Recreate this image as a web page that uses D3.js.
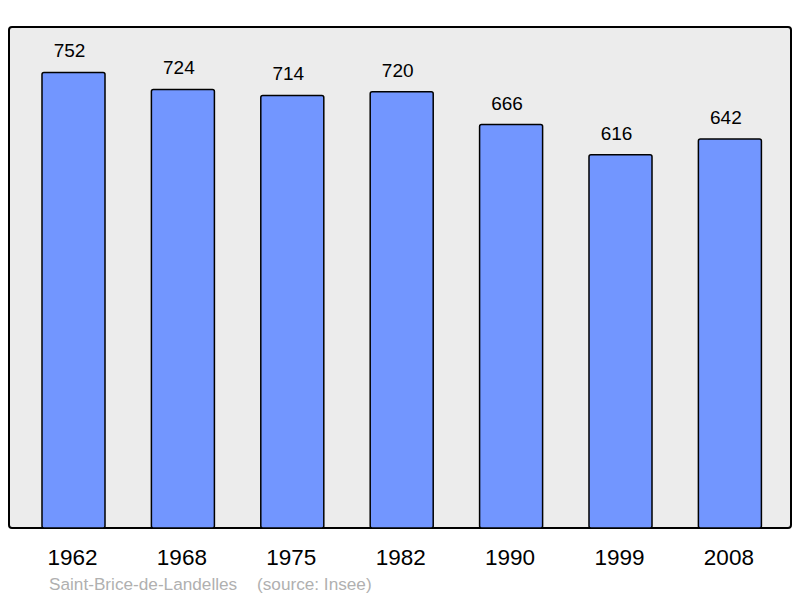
<!DOCTYPE html>
<head>
	<meta charset="UTF-8">
	<script src="https://d3js.org/d3.v7.min.js"></script>
	<title>Population chart</title>
<style>
	body{
		margin: 0;
		background-color: white;
	}
	svg{
		display: block;
	}
	text{
		font-family: 'Liberation Sans', Arial, sans-serif;
	}
</style>
</head>

<body>
	<svg width=800 height=598></svg>
</body>

<script>
	// Chart data
	var years = ["1962", "1968", "1975", "1982", "1990", "1999", "2008"];
	var population = [752, 724, 714, 720, 666, 616, 642];
	var townName = "Saint-Brice-de-Landelles";
	var sourceText = "(source: Insee)";

	var svg = d3.select("svg");

	// Panel box
	var panel = {left: 9, top: 27, right: 791, bottom: 528};

	svg.append("rect")
		.attr("x", panel.left)
		.attr("y", panel.top)
		.attr("width", panel.right - panel.left)
		.attr("height", panel.bottom - panel.top)
		.attr("rx", 3)
		.style("fill", "rgb(236,236,236)")
		.style("stroke", "black")
		.style("stroke-width", 2);

	// Scales
	var x = d3.scaleBand()
				.domain(years)
				.range([18.8, 784.6])
				.paddingInner(0.424)
				.paddingOuter(0.212);

	var y = d3.scaleLinear()
				.domain([0, 827])
				.range([panel.bottom, panel.top]);

	var rows = years.map(function(yr, i){ return {year: yr, value: population[i]}; });

	// Bars
	svg.append("g")
		.selectAll("rect")
		.data(rows).enter()
		.append("rect")
		.attr("x", function(d){ return x(d.year); })
		.attr("y", function(d){ return y(d.value); })
		.attr("width", x.bandwidth())
		.attr("height", function(d){ return panel.bottom - y(d.value); })
		.attr("rx", 2)
		.style("fill", "rgb(114,150,255)")
		.style("stroke", "black")
		.style("stroke-width", 1.5);

	// Value labels over bars (sit a little left of the bar centre in the original)
	svg.append("g")
		.selectAll("text")
		.data(rows).enter()
		.append("text")
		.attr("x", function(d){ return x(d.year) + x.bandwidth()/2 - 4; })
		.attr("y", function(d){ return y(d.value) - 15; })
		.attr("text-anchor", "middle")
		.attr("font-size", "19px")
		.attr("fill", "black")
		.text(function(d){ return d.value; });

	// Year labels
	svg.append("g")
		.selectAll("text")
		.data(years).enter()
		.append("text")
		.attr("x", function(d){ return x(d) + x.bandwidth()/2 - 1; })
		.attr("y", 565)
		.attr("text-anchor", "middle")
		.attr("font-size", "22.5px")
		.attr("fill", "black")
		.text(function(d){ return d; });

	// Footer
	svg.append("text")
		.attr("x", 49)
		.attr("y", 590)
		.attr("font-size", "17.2px")
		.attr("fill", "rgb(176,176,176)")
		.text(townName);

	svg.append("text")
		.attr("x", 257)
		.attr("y", 590)
		.attr("font-size", "17.2px")
		.attr("fill", "rgb(176,176,176)")
		.text(sourceText);
</script>
